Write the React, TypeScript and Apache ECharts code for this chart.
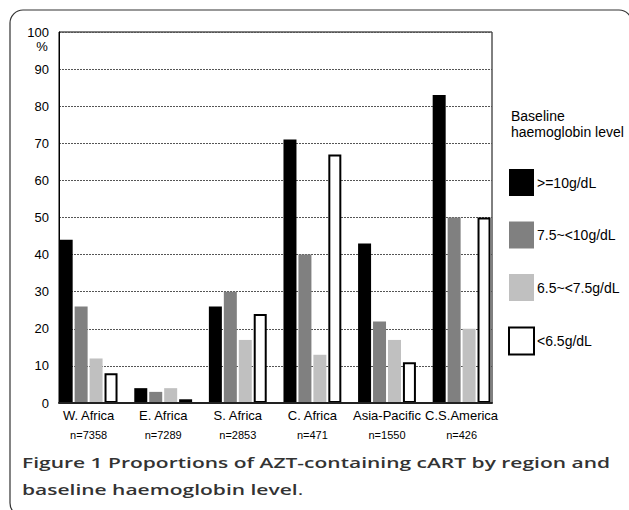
import React, { useEffect, useRef } from "react";
import * as echarts from "echarts";

const categories = ["W. Africa", "E. Africa", "S. Africa", "C. Africa", "Asia-Pacific", "C.S.America"];
const sampleSizes = ["n=7358", "n=7289", "n=2853", "n=471", "n=1550", "n=426"];
const levels = [">=10g/dL", "7.5~<10g/dL", "6.5~<7.5g/dL", "<6.5g/dL"];
const hbAbove10 = [44, 4, 26, 71, 43, 83];
const hb75to10 = [26, 3, 30, 40, 22, 50];
const hb65to75 = [12, 4, 17, 13, 17, 20];
const hbBelow65 = [8, 1, 24, 67, 11, 50];
const yMin = 0;
const yMax = 100;
const yInterval = 10;
const legendTitle = "Baseline\nhaemoglobin level";
const captionLine1 = "Figure 1 Proportions of AZT-containing cART by region and";
const captionLine2 = "baseline haemoglobin level";

const FONT = "'Liberation Sans', Arial, sans-serif";

export default function App() {
  const ref = useRef<HTMLDivElement>(null);
  useEffect(() => {
    if (!ref.current) return;
    const chart = echarts.init(ref.current, null, { renderer: "svg" });
    const seriesData = [hbAbove10, hb75to10, hb65to75, hbBelow65];
    const fills = ["#000000", "#808080", "#c0c0c0", "#ffffff"];
    const series = seriesData.map((d, i) => ({
      name: levels[i],
      type: "bar",
      xAxisIndex: 1,
      yAxisIndex: 1,
      data: d,
      barWidth: 13,
      barGap: "15%",
      itemStyle: {
        color: fills[i],
        borderColor: i === 3 ? "#000" : fills[i],
        borderWidth: i === 3 ? 2 : 0,
      },
      z: 3,
    }));
    chart.setOption({
      animation: false,
      textStyle: { fontFamily: FONT },
      grid: [
        { left: 59, top: 32, width: 433, height: 371, show: true, borderColor: "#000", borderWidth: 1, backgroundColor: "transparent" },
        { left: 51.3, top: 32, width: 447.6, height: 371 },
      ],
      xAxis: [
        {
          gridIndex: 0,
          type: "category",
          data: categories,
          axisLabel: { show: false },
          axisTick: { show: false },
          axisLine: { lineStyle: { color: "#222", width: 2 } },
          z: 5,
        },
        {
          gridIndex: 1,
          type: "category",
          data: categories,
          axisLine: { show: false },
          axisTick: { show: false },
          axisLabel: {
            margin: 2,
            interval: 0,
            formatter: (v: string, idx: number) => `{a|${v}}\n{b|${sampleSizes[idx]}}`,
            rich: {
              a: { fontSize: 13, lineHeight: 20, color: "#000", fontFamily: FONT },
              b: { fontSize: 11, lineHeight: 20, color: "#000", fontFamily: FONT },
            },
          },
        },
      ],
      yAxis: [
        {
          gridIndex: 0,
          type: "value",
          min: yMin,
          max: yMax,
          interval: yInterval,
          axisLine: { show: true, lineStyle: { color: "#000", width: 1 } },
          axisTick: { show: false },
          axisLabel: { margin: 10, fontSize: 13, color: "#000", fontFamily: FONT },
          splitLine: { show: true, lineStyle: { color: "#555", width: 1, type: [2, 1] } },
        },
        {
          gridIndex: 1,
          type: "value",
          min: yMin,
          max: yMax,
          interval: yInterval,
          show: false,
          splitLine: { show: false },
        },
      ],
      legend: {
        data: levels,
        orient: "vertical",
        left: 508,
        top: 169,
        itemWidth: 25,
        itemHeight: 27,
        itemGap: 25.5,
        padding: 0,
        icon: "rect",
        selectedMode: false,
        textStyle: { fontSize: 14, color: "#000", fontFamily: FONT, padding: [0, 0, 0, -2] },
      },
      series,
      graphic: [
        {
          type: "rect",
          shape: { x: 10, y: 10, width: 622, height: 506, r: 13 },
          style: { fill: "none", stroke: "#333", lineWidth: 1.2 },
          silent: true,
        },
        {
          type: "text",
          x: 42,
          y: 46,
          style: { text: "%", fontSize: 13, fontFamily: FONT, fill: "#000", align: "center", verticalAlign: "middle" },
        },
        {
          type: "text",
          x: 511,
          y: 108,
          style: { text: legendTitle, fontSize: 14, lineHeight: 16, fontFamily: FONT, fill: "#000", verticalAlign: "top" },
        },
        {
          type: "text",
          x: 22,
          y: 448.5,
          scaleX: 1.4,
          style: {
            text: `{b|${captionLine1}}\n{b|${captionLine2}}{n|.}`,
            verticalAlign: "top",
            rich: {
              b: { fontFamily: "'Open Sans', sans-serif", fontWeight: 600, fontSize: 15, lineHeight: 27, fill: "#333" },
              n: { fontFamily: "'Open Sans', sans-serif", fontWeight: "normal", fontSize: 15, lineHeight: 27, fill: "#333" },
            },
          },
        },
      ],
    });
    return () => chart.dispose();
  }, []);
  return <div ref={ref} style={{ position: "fixed", left: 0, top: 0, width: 629, height: 510, background: "#fff" }} />;
}
